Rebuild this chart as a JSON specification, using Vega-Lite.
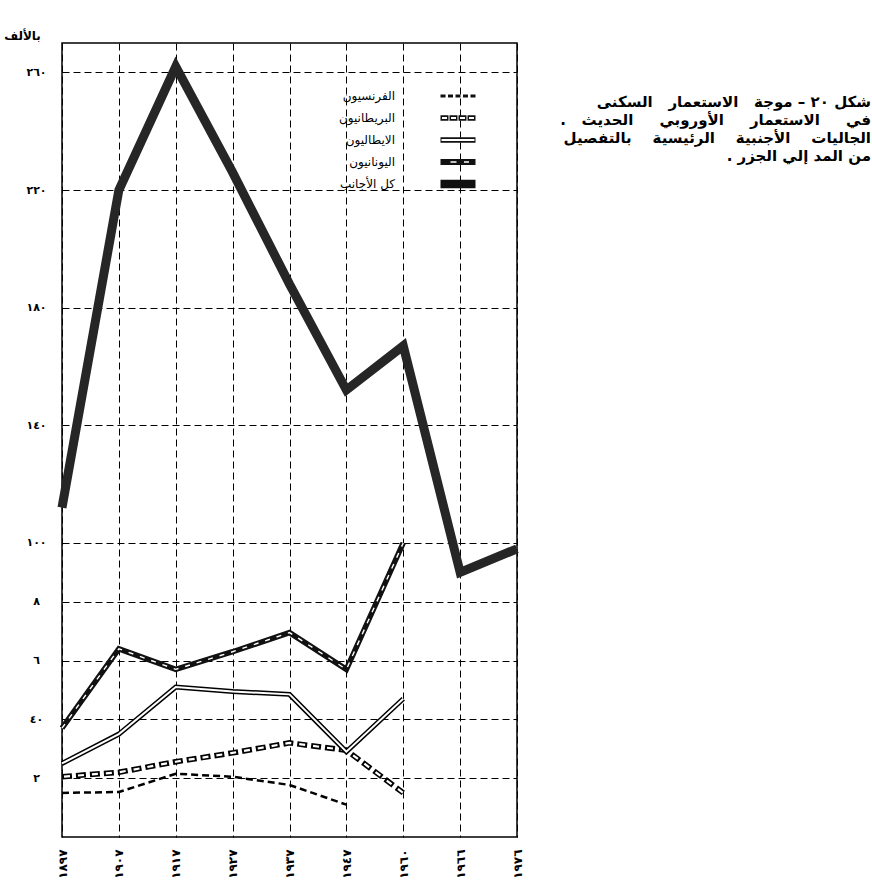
{
  "$schema": "https://vega.github.io/schema/vega-lite/v6.json",
  "width": 455,
  "height": 794,
  "autosize": {"type": "none"},
  "padding": {"left": 62, "top": 43, "right": 355, "bottom": 51},
  "background": "white",
  "config": {"view": {"stroke": "black", "strokeWidth": 1.5}, "font": "DejaVu Sans"},
  "title": {
    "text": ["شكل ٢٠ – موجة\u00a0\u00a0 الاستعمار\u00a0\u00a0 السكنى", "في\u00a0\u00a0\u00a0\u00a0 الاستعمار\u00a0\u00a0\u00a0\u00a0 الأوروبي\u00a0\u00a0\u00a0\u00a0 الحديث\u00a0\u00a0 .‏", "الجاليات\u00a0\u00a0\u00a0 الأجنبية\u00a0\u00a0\u00a0 الرئيسية\u00a0\u00a0\u00a0 بالتفصيل", "من المد إلي الجزر .‏"],
    "orient": "top",
    "anchor": "end",
    "frame": "group",
    "dx": 354,
    "dy": 135,
    "offset": 0,
    "baseline": "top",
    "lineHeight": 18,
    "fontSize": 15,
    "fontWeight": "bold",
    "font": "DejaVu Sans",
    "color": "black"
  },
  "datasets": {
    "d": [
      {"series": "كل الأجانب", "year": "١٨٩٧", "value": 112},
      {"series": "كل الأجانب", "year": "١٩٠٧", "value": 220},
      {"series": "كل الأجانب", "year": "١٩١٧", "value": 262},
      {"series": "كل الأجانب", "year": "١٩٢٧", "value": 226},
      {"series": "كل الأجانب", "year": "١٩٣٧", "value": 188},
      {"series": "كل الأجانب", "year": "١٩٤٧", "value": 152},
      {"series": "كل الأجانب", "year": "١٩٦٠", "value": 167},
      {"series": "كل الأجانب", "year": "١٩٦٦", "value": 90},
      {"series": "كل الأجانب", "year": "١٩٧٦", "value": 98},
      {"series": "اليونانيون", "year": "١٨٩٧", "value": 37},
      {"series": "اليونانيون", "year": "١٩٠٧", "value": 64},
      {"series": "اليونانيون", "year": "١٩١٧", "value": 57},
      {"series": "اليونانيون", "year": "١٩٢٧", "value": 63},
      {"series": "اليونانيون", "year": "١٩٣٧", "value": 69.5},
      {"series": "اليونانيون", "year": "١٩٤٧", "value": 57},
      {"series": "اليونانيون", "year": "١٩٦٠", "value": 100},
      {"series": "الايطاليون", "year": "١٨٩٧", "value": 25},
      {"series": "الايطاليون", "year": "١٩٠٧", "value": 35},
      {"series": "الايطاليون", "year": "١٩١٧", "value": 51},
      {"series": "الايطاليون", "year": "١٩٢٧", "value": 49.5},
      {"series": "الايطاليون", "year": "١٩٣٧", "value": 48.5},
      {"series": "الايطاليون", "year": "١٩٤٧", "value": 29},
      {"series": "الايطاليون", "year": "١٩٦٠", "value": 47},
      {"series": "البريطانيون", "year": "١٨٩٧", "value": 20.5},
      {"series": "البريطانيون", "year": "١٩٠٧", "value": 22},
      {"series": "البريطانيون", "year": "١٩١٧", "value": 25.6},
      {"series": "البريطانيون", "year": "١٩٢٧", "value": 28.6},
      {"series": "البريطانيون", "year": "١٩٣٧", "value": 32},
      {"series": "البريطانيون", "year": "١٩٤٧", "value": 29.5},
      {"series": "البريطانيون", "year": "١٩٦٠", "value": 15},
      {"series": "الفرنسيون", "year": "١٨٩٧", "value": 15},
      {"series": "الفرنسيون", "year": "١٩٠٧", "value": 15.3},
      {"series": "الفرنسيون", "year": "١٩١٧", "value": 21.5},
      {"series": "الفرنسيون", "year": "١٩٢٧", "value": 20.5},
      {"series": "الفرنسيون", "year": "١٩٣٧", "value": 17.7},
      {"series": "الفرنسيون", "year": "١٩٤٧", "value": 11}
    ]
  },
  "data": {"name": "d"},
  "encoding": {
    "x": {
      "field": "year",
      "type": "ordinal",
      "sort": ["١٨٩٧", "١٩٠٧", "١٩١٧", "١٩٢٧", "١٩٣٧", "١٩٤٧", "١٩٦٠", "١٩٦٦", "١٩٧٦"],
      "scale": {"type": "point", "padding": 0},
      "axis": {
        "title": null,
        "labelAngle": -90,
        "labelAlign": "right",
        "labelBaseline": "middle",
        "labelPadding": 12,
        "labelFontSize": 12,
        "labelFontWeight": "bold",
        "labelColor": "black",
        "ticks": false,
        "tickSize": 0,
        "domain": false,
        "grid": true,
        "gridColor": "black",
        "gridDash": [7, 4],
        "gridWidth": 1
      }
    },
    "y": {
      "field": "value",
      "type": "quantitative",
      "scale": {"domain": [0, 270], "nice": false, "zero": false},
      "axis": {
        "title": "بالألف",
        "titleAngle": 0,
        "titleX": -40,
        "titleY": -1,
        "titleAlign": "center",
        "titleBaseline": "bottom",
        "titleFontSize": 12,
        "titleFontWeight": "bold",
        "titleColor": "black",
        "values": [20, 40, 60, 80, 100, 140, 180, 220, 260],
        "labelExpr": "{'20': '٢', '40': '٤٠', '60': '٦', '80': '٨', '100': '١٠٠', '140': '١٤٠', '180': '١٨٠', '220': '٢٢٠', '260': '٢٦٠'}[datum.value]",
        "labelAlign": "center",
        "labelBaseline": "middle",
        "labelPadding": 26,
        "labelFontSize": 11,
        "labelFontWeight": "bold",
        "labelColor": "black",
        "ticks": false,
        "tickSize": 0,
        "domain": false,
        "grid": true,
        "gridColor": "black",
        "gridDash": [7, 4],
        "gridWidth": 1
      }
    }
  },
  "layer": [
    {
      "transform": [{"filter": "datum.series === 'الفرنسيون'"}],
      "mark": {"type": "line", "color": "black", "strokeWidth": 2.5, "strokeDash": [7, 4]}
    },
    {
      "transform": [{"filter": "datum.series === 'البريطانيون'"}],
      "mark": {"type": "line", "color": "black", "strokeWidth": 5.5, "strokeDash": [10, 4], "strokeCap": "butt"}
    },
    {
      "transform": [{"filter": "datum.series === 'البريطانيون'"}],
      "mark": {"type": "line", "color": "white", "strokeWidth": 2.2, "strokeDash": [6, 8], "strokeDashOffset": -2, "strokeCap": "butt"}
    },
    {
      "transform": [{"filter": "datum.series === 'الايطاليون'"}],
      "mark": {"type": "line", "color": "black", "strokeWidth": 5, "strokeJoin": "miter"}
    },
    {
      "transform": [{"filter": "datum.series === 'الايطاليون'"}],
      "mark": {"type": "line", "color": "white", "strokeWidth": 2, "strokeJoin": "miter"}
    },
    {
      "transform": [{"filter": "datum.series === 'اليونانيون'"}],
      "mark": {"type": "line", "color": "#111", "strokeWidth": 5.5, "strokeJoin": "miter"}
    },
    {
      "transform": [{"filter": "datum.series === 'اليونانيون'"}],
      "mark": {"type": "line", "color": "white", "strokeWidth": 1.4, "strokeDash": [5, 7], "strokeJoin": "miter"}
    },
    {
      "transform": [{"filter": "datum.series === 'كل الأجانب'"}],
      "mark": {"type": "line", "color": "#262626", "strokeWidth": 9, "strokeJoin": "miter"}
    },
    {
      "mark": {"type": "point", "filled": true, "opacity": 0, "color": "#111"},
      "encoding": {
        "shape": {
          "field": "series",
          "type": "nominal",
          "scale": {
            "domain": ["الفرنسيون", "البريطانيون", "الايطاليون", "اليونانيون", "كل الأجانب"],
            "range": [
              "M-3.5,-0.3H-2.5V0.3H-3.5Z M-2,-0.3H-1V0.3H-2Z M-0.5,-0.3H0.5V0.3H-0.5Z M1,-0.3H2V0.3H1Z M2.5,-0.3H3.5V0.3H2.5Z",
              "M-3.5,-0.55H-1.9V0.55H-3.5Z M-3.2,-0.2V0.2H-2.2V-0.2Z M-1.7,-0.55H-0.1V0.55H-1.7Z M-1.4,-0.2V0.2H-0.4V-0.2Z M0.1,-0.55H1.7V0.55H0.1Z M0.4,-0.2V0.2H1.4V-0.2Z M1.9,-0.55H3.5V0.55H1.9Z M2.2,-0.2V0.2H3.2V-0.2Z",
              "M-3.5,-0.55H3.5V0.55H-3.5Z M-3.3,-0.18V0.18H3.3V-0.18Z",
              "M-3.5,-0.6H3.5V0.6H-3.5Z M-1.5,-0.15V0.15H-0.3V-0.15Z M1.2,-0.15V0.15H2.2V-0.15Z",
              "M-3.5,-0.85H3.5V0.85H-3.5Z"
            ]
          },
          "legend": {
            "orient": "none",
            "legendX": 390,
            "legendY": 47,
            "title": null,
            "direction": "vertical",
            "symbolSize": 100,
            "symbolFillColor": "#111",
            "symbolStrokeColor": "#111",
            "symbolStrokeWidth": 0,
            "symbolOpacity": 1,
            "labelAlign": "right",
            "labelOffset": -69,
            "labelFontSize": 12,
            "labelFont": "DejaVu Sans",
            "labelColor": "black",
            "rowPadding": 10
          }
        }
      }
    }
  ]
}
